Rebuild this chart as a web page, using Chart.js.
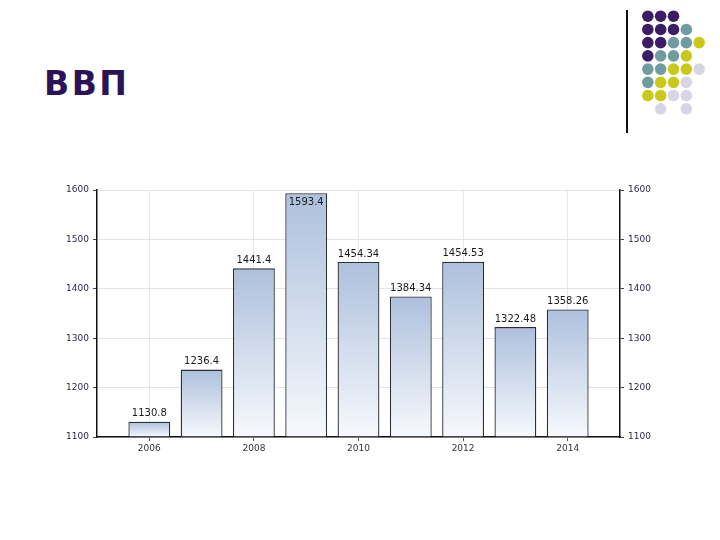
<!DOCTYPE html>
<html><head><meta charset="utf-8">
<script src="https://cdn.jsdelivr.net/npm/chart.js@4.4.1/dist/chart.umd.min.js"></script>
<style>
html,body{margin:0;padding:0;background:#fff;width:720px;height:540px;overflow:hidden;}
#main{position:absolute;left:0;top:0;width:720px;height:540px;}
#title{position:absolute;left:44px;top:64px;font-family:"DejaVu Sans",sans-serif;font-weight:bold;font-size:33px;color:#2a1457;letter-spacing:2.5px;}
#vline{position:absolute;left:626px;top:10px;width:2px;height:123px;background:#111;}
#dots{position:absolute;left:635px;top:3px;width:77px;height:119px;}
</style></head>
<body>
<div id="title">ВВП</div>
<div id="vline"></div>
<canvas id="dots" width="77" height="119"></canvas>
<canvas id="main" width="720" height="540"></canvas>
<script>
// ---- data ----
const categories = ['2005','2006','2007','2008','2009','2010','2011','2012','2013','2014','2015'];
const gdpValues = [null, 1130.8, 1236.4, 1441.4, 1593.4, 1454.34, 1384.34, 1454.53, 1322.48, 1358.26, null];
const valueLabels = [null, '1130.8', '1236.4', '1441.4', '1593.4', '1454.34', '1384.34', '1454.53', '1322.48', '1358.26', null];
const shownYears = ['2006','2008','2010','2012','2014'];
const yTicks = [1100, 1200, 1300, 1400, 1500, 1600];

// decorative dot pattern (column, row)
const dotsPurple = [{x:0,y:0},{x:1,y:0},{x:2,y:0},{x:0,y:1},{x:1,y:1},{x:2,y:1},{x:0,y:2},{x:1,y:2},{x:0,y:3}];
const dotsTeal = [{x:3,y:1},{x:2,y:2},{x:3,y:2},{x:1,y:3},{x:2,y:3},{x:0,y:4},{x:1,y:4},{x:0,y:5}];
const dotsYellow = [{x:4,y:2},{x:3,y:3},{x:2,y:4},{x:3,y:4},{x:1,y:5},{x:2,y:5},{x:0,y:6},{x:1,y:6}];
const dotsLavender = [{x:4,y:4},{x:3,y:5},{x:2,y:6},{x:3,y:6},{x:1,y:7},{x:3,y:7}];

const Y_MIN = 1100, Y_MAX = 1600;

const valueLabelPlugin = {
  id: 'valueLabels',
  afterDatasetsDraw(chart) {
    const c = chart.ctx;
    const meta = chart.getDatasetMeta(0);
    c.save();
    c.font = '10px "DejaVu Sans", Verdana, sans-serif';
    c.fillStyle = '#1a1a1a';
    c.textAlign = 'center';
    meta.data.forEach((bar, i) => {
      const txt = valueLabels[i];
      if (!txt) return;
      const top = bar.y;
      if (top - 15 < chart.chartArea.top) {
        c.textBaseline = 'top';
        c.fillText(txt, bar.x, top + 4);
      } else {
        c.textBaseline = 'bottom';
        c.fillText(txt, bar.x, top - 3);
      }
    });
    c.restore();
  }
};

function barGradient(ctx) {
  const chart = ctx.chart;
  const ys = chart.scales && chart.scales.y;
  if (!chart.chartArea || !ys) return '#c0cde2';
  const v = gdpValues[ctx.dataIndex];
  if (v == null) return '#c0cde2';
  const top = ys.getPixelForValue(v);
  const bot = ys.getPixelForValue(Y_MIN);
  const g = chart.ctx.createLinearGradient(0, top, 0, bot);
  g.addColorStop(0, '#adc0dd');
  g.addColorStop(1, '#f7f9fc');
  return g;
}

const tickFont = {family: '"DejaVu Sans", Verdana, sans-serif', size: 9};
const plainNum = v => String(v);

new Chart(document.getElementById('main'), {
  type: 'bar',
  data: {
    labels: categories,
    datasets: [{
      data: gdpValues,
      backgroundColor: barGradient,
      borderColor: '#2a2e36',
      borderWidth: 1.3,
      borderSkipped: 'bottom',
      categoryPercentage: 0.8,
      barPercentage: 1.0,
      base: Y_MIN
    }]
  },
  options: {
    responsive: false,
    animation: false,
    devicePixelRatio: 1,
    layout: {padding: {top: 190, left: 0, right: 0, bottom: 0}},
    plugins: {legend: {display: false}, tooltip: {enabled: false}, title: {display: false}},
    scales: {
      x: {
        offset: false,
        grid: {
          offset: false,
          color: c => (c.tick && shownYears.includes(categories[c.index])) ? '#e6e6e6' : 'rgba(0,0,0,0)',
          tickColor: c => (c.tick && shownYears.includes(categories[c.index])) ? '#555' : 'rgba(0,0,0,0)',
          tickLength: 4,
          drawOnChartArea: true
        },
        border: {display: true, color: '#111', width: 1.5},
        ticks: {
          autoSkip: false, maxRotation: 0, color: '#333', font: tickFont, padding: 2,
          callback: function(v, i) { return shownYears.includes(categories[i]) ? categories[i] : ''; }
        },
        afterFit(s) { s.height = 103; }
      },
      y: {
        position: 'left',
        min: Y_MIN, max: Y_MAX,
        afterBuildTicks(s) { s.ticks = yTicks.map(v => ({value: v})); },
        grid: {color: '#e4e4e4', tickColor: '#444', tickLength: 4},
        border: {display: true, color: '#111', width: 1.5},
        ticks: {color: '#2c2c44', font: tickFont, padding: 4, callback: plainNum},
        afterFit(s) { s.width = 97; }
      },
      y2: {
        position: 'right',
        min: Y_MIN, max: Y_MAX,
        afterBuildTicks(s) { s.ticks = yTicks.map(v => ({value: v})); },
        grid: {drawOnChartArea: false, tickColor: '#444', tickLength: 4},
        border: {display: true, color: '#111', width: 1.5},
        ticks: {color: '#2c2c44', font: tickFont, padding: 4, callback: plainNum},
        afterFit(s) { s.width = 100; }
      }
    }
  },
  plugins: [valueLabelPlugin]
});

const dotDs = (data, color) => ({data, backgroundColor: color, borderColor: color, pointRadius: 5.8, pointBorderWidth: 0});
new Chart(document.getElementById('dots'), {
  type: 'scatter',
  data: {datasets: [
    dotDs(dotsPurple, '#3b1d66'),
    dotDs(dotsTeal, '#6f9c9f'),
    dotDs(dotsYellow, '#c9c91c'),
    dotDs(dotsLavender, '#d6d6e6')
  ]},
  options: {
    responsive: false, animation: false, devicePixelRatio: 1,
    layout: {padding: 0, autoPadding: false},
    plugins: {legend: {display: false}, tooltip: {enabled: false}},
    scales: {
      x: {display: false, min: -1, max: 5},
      y: {display: false, min: -1, max: 8, reverse: true}
    }
  }
});
</script>
</body></html>
